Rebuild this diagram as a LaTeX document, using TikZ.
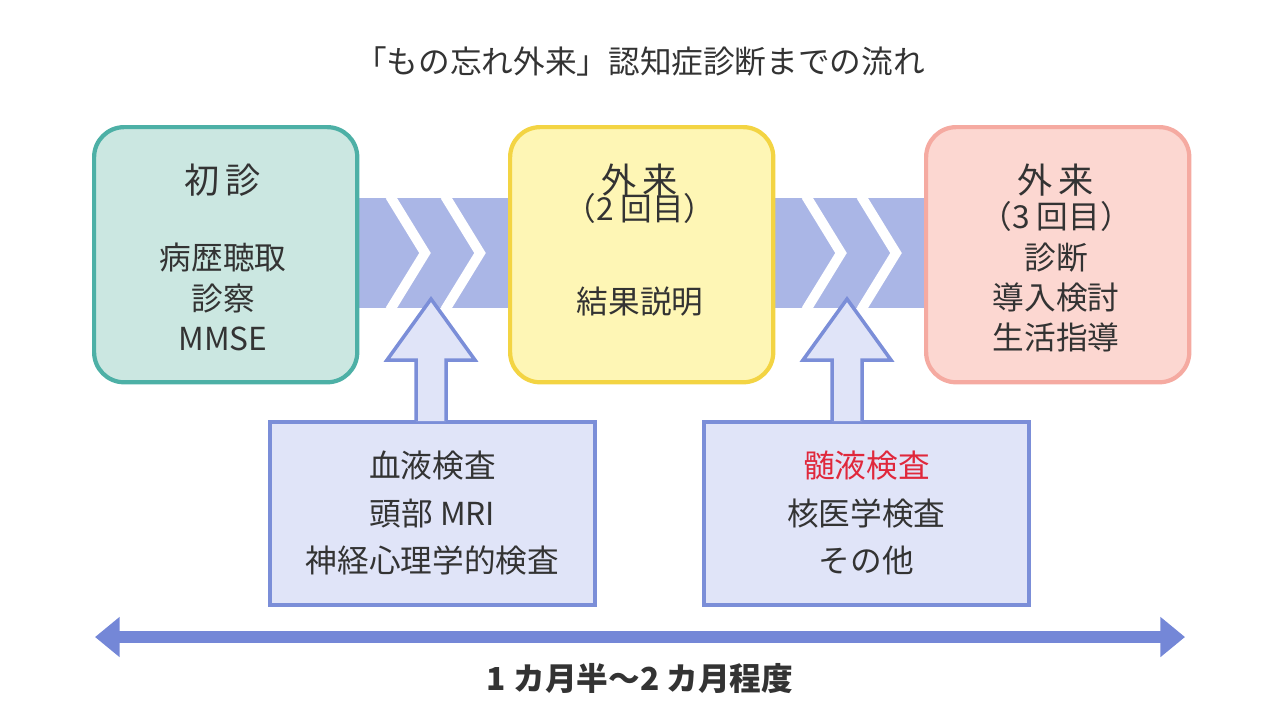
\documentclass[tikz,border=0pt]{standalone}
\usepackage{fontspec}
\setmainfont{Noto Sans CJK JP}
\usetikzlibrary{arrows.meta}
\definecolor{tealfill}{HTML}{CBE7E1}
\definecolor{tealline}{HTML}{4DB0A6}
\definecolor{yelfill}{HTML}{FEF6B5}
\definecolor{yelline}{HTML}{F3D443}
\definecolor{pinkfill}{HTML}{FCD7D1}
\definecolor{pinkline}{HTML}{F5AAA1}
\definecolor{bandblue}{HTML}{AAB6E6}
\definecolor{boxfill}{HTML}{E0E4F8}
\definecolor{boxline}{HTML}{7B8ED8}
\definecolor{arrowblue}{HTML}{7487D7}
\definecolor{txt}{HTML}{333333}
\definecolor{redtxt}{HTML}{E0283C}
\begin{document}
\begin{tikzpicture}[x=0.01cm,y=-0.01cm,
  every node/.style={text=txt, align=center},
  visit/.style={rounded corners=0.3cm, line width=1.2pt, minimum width=2.63cm, minimum height=2.55cm, anchor=north west},
  test/.style={fill=boxfill, draw=boxline, line width=1pt, minimum width=3.25cm, minimum height=1.83cm, anchor=north west, font=\fontsize{9pt}{13.5pt}\selectfont},
  head/.style={font=\fontsize{10pt}{12pt}\selectfont},
  body/.style={font=\fontsize{9pt}{11.5pt}\selectfont},
  gap/.style={white, line width=2.8pt}]
\useasboundingbox (0,0) rectangle (1280,720);
% title
\node (title) at (640,62) {\fontsize{9pt}{11pt}\selectfont 「もの忘れ外来」認知症診断までの流れ};
% band with chevrons
\fill[bandblue] (350,198) rectangle (930,308);
\foreach \x in {390,445,806,861}
  \draw[gap] (\x,196) -- (\x+35,253) -- (\x,310);
% visits
\node[visit, fill=tealfill, draw=tealline] (v1) at (92,125) {};
\node[visit, fill=yelfill, draw=yelline] (v2) at (508,125) {};
\node[visit, fill=pinkfill, draw=pinkline] (v3) at (924,125) {};
\node[head] (h1) at (223,180) {初\,診};
\node[body] (b1) at (223,297) {病歴聴取\\診察\\MMSE};
\node[head] (h2) at (640,180) {外\,来};
\node[body] (b2) at (640,255) {（2 回目）\\[15pt]結果説明};
\node[head] (h3) at (1056,180) {外\,来};
\node[body] (b3) at (1056,277) {（3 回目）\\診断\\導入検討\\生活指導};
% tests
\node[test] (t1) at (268,420) {血液検査\\頭部 MRI\\神経心理学的検査};
\node[test] (t2) at (702,420) {\textcolor{redtxt}{髄液検査}\\核医学検査\\その他};
\foreach \c in {431,847}
  \draw[fill=boxfill, draw=boxline, line width=1pt]
    (\c-15,421) -- (\c-15,360) -- (\c-44,360) -- (\c,299) -- (\c+44,360) -- (\c+15,360) -- (\c+15,421);
% duration
\coordinate (left) at (95,637);
\coordinate (right) at (1185,637);
\draw[arrowblue, line width=3.5pt, {Triangle[length=7pt,width=11pt]}-{Triangle[length=7pt,width=11pt]}] (left) -- (right);
\node (dur) at (640,678) {\fontsize{9pt}{11pt}\selectfont\bfseries 1 カ月半〜2 カ月程度};
\end{tikzpicture}
\end{document}
